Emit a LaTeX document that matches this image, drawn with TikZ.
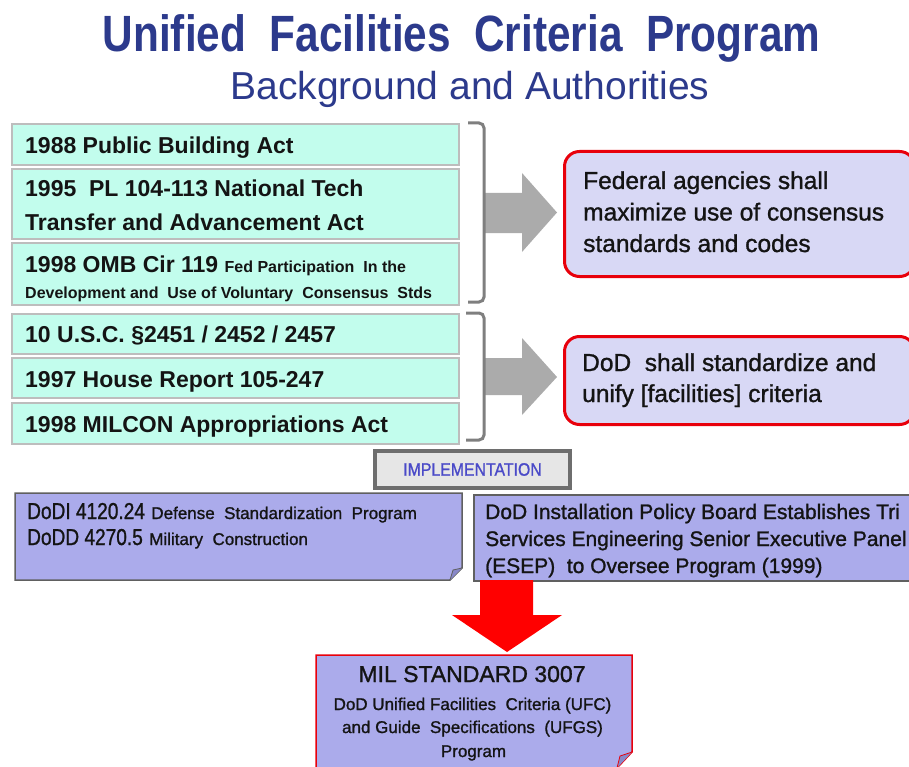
\documentclass[tikz,border=0pt]{standalone}
\usepackage{fontspec}
\setmainfont{Liberation Sans}
\newfontfamily\semib[FakeBold=1.2]{Liberation Sans}
\usepackage{graphicx}
\usetikzlibrary{calc}
\definecolor{titleblue}{HTML}{2C3A8C}
\definecolor{mint}{HTML}{C2FDED}
\definecolor{mintedge}{HTML}{BDBDBD}
\definecolor{lav}{HTML}{D8D8F5}
\definecolor{peri}{HTML}{ABABEB}
\definecolor{peridark}{HTML}{8888C8}
\definecolor{lowedge}{HTML}{606060}
\definecolor{redb}{HTML}{E8000B}
\definecolor{arrowgray}{HTML}{ABABAB}
\definecolor{brackgray}{HTML}{7F7F7F}
\definecolor{impltext}{HTML}{4A4AC8}
\definecolor{implfill}{HTML}{E6E6E6}
\definecolor{impledge}{HTML}{6E6E6E}
\definecolor{txtc}{HTML}{141414}
\newcommand{\cond}[2]{\scalebox{#1}[1]{#2}}
\newcommand{\fs}[2]{\fontsize{#1}{#2}\selectfont}
\begin{document}
\begin{tikzpicture}[x=1pt,y=-1pt,
  mintbox/.style={draw=mintedge, line width=2pt, fill=mint, anchor=north west, minimum width=447pt, inner sep=0pt},
  redbox/.style={draw=redb, line width=3pt, fill=lav, rounded corners=15pt, anchor=north west, minimum width=350pt, inner sep=0pt},
  lowbox/.style={draw=lowedge, line width=1.5pt, fill=peri},
  txt/.style={anchor=base west, inner sep=0pt, text=txtc},
  ctxt/.style={anchor=base, inner sep=0pt, text=txtc},
  bracket/.style={draw=brackgray, line width=3pt, rounded corners=5pt},
  fatarrow/.style={fill=arrowgray},
]
\useasboundingbox (0,0) rectangle (909,767);

% title
\node[anchor=base, inner sep=0pt, text=titleblue] (title) at (461.5,52)
  {\cond{0.83}{\fs{51}{51}\bfseries Unified\ \ Facilities\ \ Criteria\ \ Program}};
\node[anchor=base, inner sep=0pt, text=titleblue] (subtitle) at (470,100)
  {\fs{39}{39}Background and Authorities};

% left mint boxes
\node[mintbox, minimum height=41pt] (m1) at (11,123) {};
\node[mintbox, minimum height=70pt] (m2) at (11,168) {};
\node[mintbox, minimum height=62pt] (m3) at (11,242) {};
\node[mintbox, minimum height=40pt] (m4) at (11,313) {};
\node[mintbox, minimum height=40pt] (m5) at (11,357) {};
\node[mintbox, minimum height=41pt] (m6) at (11,402) {};

\node[txt] (t1) at (25,154) {\fs{23}{33}\bfseries 1988 Public Building Act};
\node[txt] (t2) at (25,197) {\parbox[t]{430pt}{\raggedright\fs{23}{33}\bfseries 1995\ \ PL 104-113 National Tech\\Transfer and Advancement Act}};
\node[txt] (t3) at (25,272) {\parbox[t]{430pt}{\raggedright\fs{23}{26}\bfseries 1998 OMB Cir 119 {\fs{16}{26}Fed Participation\ \ In the}\\{\fs{16}{26}Development and\ \ Use of Voluntary\ \ Consensus\ \ Stds}}};
\node[txt] (t4) at (25,342) {\fs{23}{33}\bfseries 10 U.S.C. §2451 / 2452 / 2457};
\node[txt] (t5) at (25,387) {\fs{23}{33}\bfseries 1997 House Report 105-247};
\node[txt] (t6) at (25,432) {\fs{23}{33}\bfseries 1998 MILCON Appropriations Act};

% gray arrows
\fill[fatarrow] (485,193) -- (522,193) -- (522,173) -- (557,212.5) -- (522,252) -- (522,233) -- (485,233) -- cycle;
\fill[fatarrow] (485,358) -- (522,358) -- (522,338) -- (557,377) -- (522,415) -- (522,395) -- (485,395) -- cycle;

% brackets
\draw[bracket] (468,123) -- (484,123) -- (484,302) -- (468,302);
\draw[bracket] (466,313) -- (484,313) -- (484,440) -- (466,440);

% red boxes
\node[redbox, minimum height=125pt] (r1) at (563,150) {};
\node[redbox, minimum height=88pt] (r2) at (563,335) {};
\node[txt] (rt1) at (583,189) {\parbox[t]{320pt}{\raggedright\semib\fs{24.5}{31.5}Federal agencies shall\\maximize use of consensus\\standards and codes}};
\node[txt] (rt2) at (582,371) {\parbox[t]{320pt}{\raggedright\semib\fs{24.5}{31}DoD\ \ shall standardize and\\unify [facilities] criteria}};

% implementation
\node[draw=impledge, line width=3.5pt, fill=implfill, minimum width=195pt, minimum height=37pt, inner sep=0pt, text=impltext] (impl) at (472.5,469.5)
  {\cond{0.88}{\semib\fs{18}{18}IMPLEMENTATION}};

% lower boxes
\draw[lowbox] (15,493) -- (462,493) -- (462,568) -- (450,580) -- (15,580) -- cycle;
\fill[peridark] (450,580) -- (453,570) -- (462,568) -- cycle;
\draw[lowedge, line width=0.8pt] (450,580) -- (453,570) -- (462,568);
\node[lowbox, anchor=north west, minimum width=440pt, minimum height=86pt, inner sep=0pt] (lr) at (473,494) {};

\node[txt] (lt) at (27,519) {\parbox[t]{440pt}{\raggedright\semib\fs{23}{26}\cond{0.83}{DoDI 4120.24} {\fs{17}{26}Defense\ \ Standardization\ \ Program}\\\cond{0.83}{DoDD 4270.5} {\fs{17}{26}Military\ \ Construction}}};
\node[txt] (rtl) at (485,519) {\parbox[t]{430pt}{\raggedright\semib\fs{21}{27}DoD Installation Policy Board Establishes Tri\\Services Engineering Senior Executive Panel\\(ESEP)\ \ to Oversee Program (1999)}};

% red arrow
\fill[red] (480,580) -- (533,580) -- (533,615) -- (562,615) -- (507,652) -- (452,615) -- (480,615) -- cycle;

% MIL box
\draw[draw=redb, line width=1.5pt, fill=peri] (316,655) -- (632,655) -- (632,752) -- (617,768) -- (316,768) -- cycle;
\fill[peridark] (617,768) -- (620,756) -- (632,752) -- cycle;
\draw[redb, line width=0.8pt] (617,768) -- (620,756) -- (632,752);
\node[ctxt] (mil1) at (472,682) {\semib\fs{23}{23}MIL STANDARD 3007};
\node[ctxt] (mil2) at (472.5,710) {\semib\fs{17}{17}DoD Unified Facilities\ \ Criteria (UFC)};
\node[ctxt] (mil3) at (472.5,733) {\semib\fs{17}{17}and Guide\ \ Specifications\ \ (UFGS)};
\node[ctxt] (mil4) at (473.5,757) {\semib\fs{17}{17}Program};
\end{tikzpicture}
\end{document}
